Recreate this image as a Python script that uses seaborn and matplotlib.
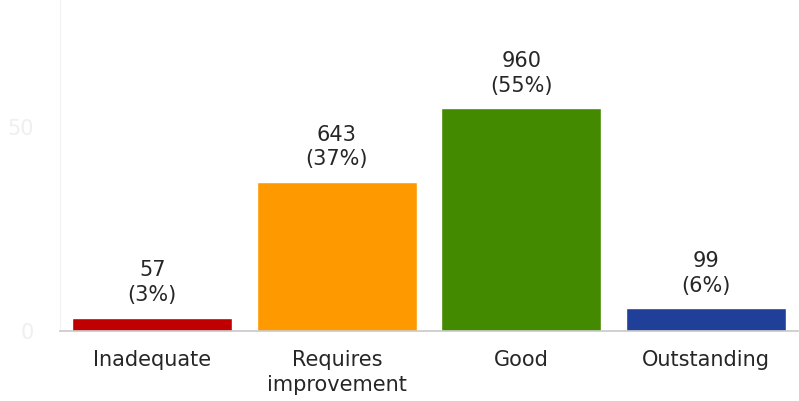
import matplotlib
matplotlib.use("Agg")
import matplotlib.pyplot as plt
import seaborn as sns
import pandas as pd

categories = ["Inadequate", "Requires\nimprovement", "Good", "Outstanding"]
counts = [57, 643, 960, 99]
percent_labels = ["3%", "37%", "55%", "6%"]
colors = ["#C00000", "#FF9900", "#448A00", "#1F3F99"]
y_ticks = [0, 50]

total = sum(counts)
shares = [c / total * 100 for c in counts]
df = pd.DataFrame({"cat": categories, "share": shares})

sns.set_theme(style="white")
plt.rcParams["font.family"] = ["DejaVu Sans"]

fig = plt.figure(figsize=(7.99, 4.01), dpi=100)
ax = fig.add_axes([60 / 799, 1 - 331 / 401, 738 / 799, 331 / 401])
sns.barplot(data=df, x="cat", y="share", hue="cat", palette=colors,
            width=0.867, legend=False, ax=ax, saturation=1)

ax.set_xlim(-0.5, 3.5)
ax.set_ylim(0, 331 / 4.08)
ax.set_yticks(y_ticks)
ax.set_yticklabels([str(t) for t in y_ticks], color="#efefef", fontsize=15)
ax.tick_params(axis="y", length=0, pad=19)
ax.tick_params(axis="x", length=0, pad=14, labelsize=15, labelcolor="#262626")
for lbl in ax.get_xticklabels():
    lbl.set_linespacing(1.3)
ax.set_xlabel("")
ax.set_ylabel("")
for s in ["top", "right"]:
    ax.spines[s].set_visible(False)
ax.spines["left"].set_color("#f2f2f2")
ax.spines["left"].set_linewidth(0.8)
ax.spines["bottom"].set_color("#c8c8c8")
ax.spines["bottom"].set_linewidth(1.2)

for i, (c, p, s) in enumerate(zip(counts, percent_labels, shares)):
    ax.annotate(f"{c}\n({p})", xy=(i, s), xytext=(0, 9), textcoords="offset points",
                ha="center", va="bottom", fontsize=15, color="#262626",
                linespacing=1.3)

fig.savefig("out.png", dpi=100, facecolor="white")
